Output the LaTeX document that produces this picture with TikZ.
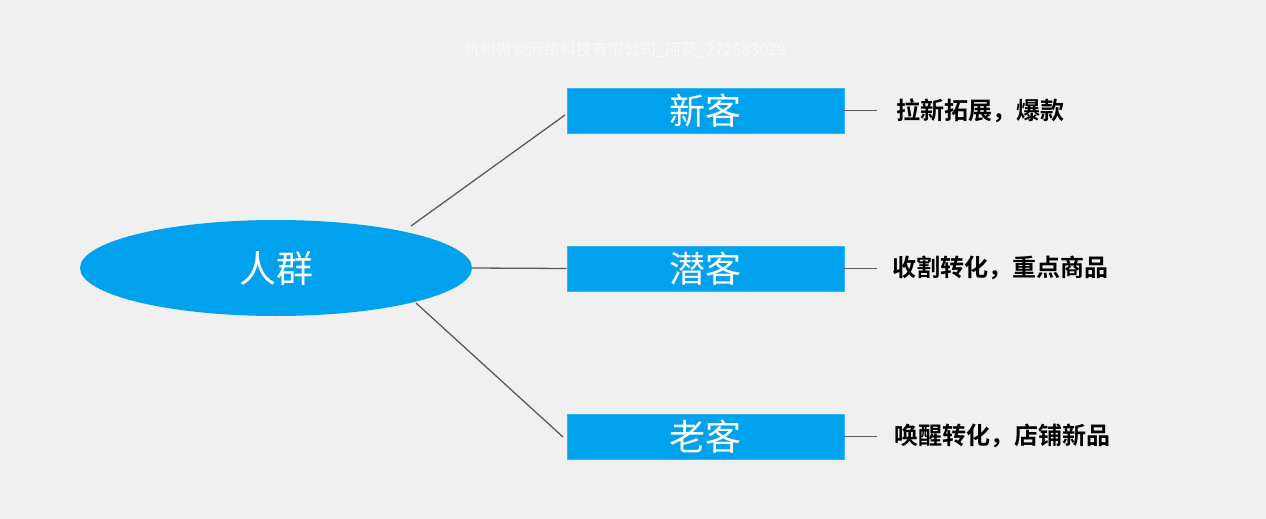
\documentclass[tikz,border=0pt]{standalone}
\usepackage{fontspec}
\newfontfamily\cjk{Noto Sans CJK SC}[BoldFont={Noto Sans CJK SC Bold}]
\definecolor{bg}{HTML}{F0F0F0}
\definecolor{myblue}{HTML}{00A2EE}
\definecolor{lin}{HTML}{5A5A5A}
\tikzset{
  catbox/.style={fill=myblue, draw=myblue!80!white, line width=0.8pt, minimum width=277pt, minimum height=45pt, inner sep=0pt, text=white, font=\cjk\fontsize{36}{36}\selectfont},
  hub/.style={ellipse, fill=myblue, minimum width=392pt, minimum height=96pt, inner sep=0pt, text=white, font=\cjk\fontsize{37}{37}\selectfont},
  lbl/.style={anchor=west, inner sep=0pt, text=black, font=\cjk\bfseries\fontsize{24}{24}\selectfont},
  conn/.style={draw=lin, line width=1.3pt}
}
\usetikzlibrary{shapes.geometric}
\begin{document}
\begin{tikzpicture}[x=1pt,y=-1pt]
\fill[bg] (0,0) rectangle (1266,519);
\useasboundingbox (0,0) rectangle (1266,519);
\node[text=white, opacity=0.6, font=\cjk\fontsize{16}{16}\selectfont] (wm) at (625,50) {杭州微澜网络科技有限公司\_阿莫\_272683029};
\node[hub] (ell) at (276,268) {人群};
\node[catbox] (b1) at (705.5,110.5) {新客};
\node[catbox] (b2) at (705.5,268.5) {潜客};
\node[catbox] (b3) at (705.5,436.5) {老客};
\node[lbl] (l1) at (896,111) {拉新拓展，爆款};
\node[lbl] (l2) at (892,268) {收割转化，重点商品};
\node[lbl] (l3) at (894,436) {唤醒转化，店铺新品};
\coordinate (s1) at (411,226);
\coordinate (e1) at (565,115);
\coordinate (s3) at (416,303);
\coordinate (e3) at (563,437);
\draw[conn] (s1) -- (e1);
\draw[conn] (ell.east) -- (b2.west);
\draw[conn] (s3) -- (e3);
\draw[conn] (b1.east) -- ++(33,0) coordinate (t1);
\draw[conn] (b2.east) -- ++(33,0) coordinate (t2);
\draw[conn] (b3.east) -- ++(33,0) coordinate (t3);
\end{tikzpicture}
\end{document}
